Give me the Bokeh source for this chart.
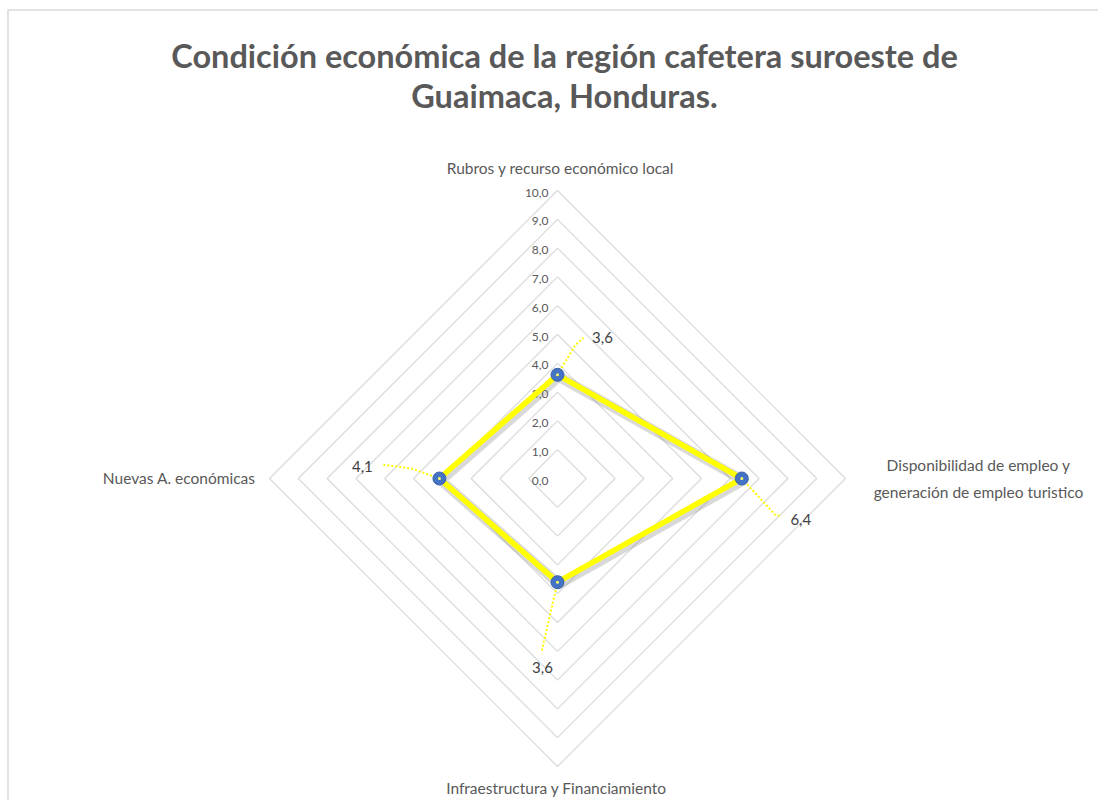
import math
from bokeh.plotting import figure
from bokeh.models import Range1d, Label
from bokeh.core.properties import value
from bokeh.embed import file_html
from bokeh.resources import INLINE

# ---- data ----
categories = ["Rubros y recurso económico local",
              "Disponibilidad de empleo y\ngeneración de empleo turistico",
              "Infraestructura y Financiamiento",
              "Nuevas A. económicas"]
values = [3.6, 6.4, 3.6, 4.1]
value_labels = ["3,6", "6,4", "3,6", "4,1"]
ring_values = [1, 2, 3, 4, 5, 6, 7, 8, 9, 10]
tick_values = [0, 1, 2, 3, 4, 5, 6, 7, 8, 9, 10]
tick_labels = ["0,0", "1,0", "2,0", "3,0", "4,0", "5,0", "6,0", "7,0", "8,0", "9,0", "10,0"]
title_lines = ["Condición económica de la región cafetera suroeste de",
               "Guaimaca, Honduras."]

# ---- layout ----
W, H = 1098, 800
CX, CY = 557, 478       # canvas pixel of the center
S = 28.8                # pixels per unit
FONT = "Lato"

def px(dx, dy):
    """pixel offset (screen, y down) -> data units"""
    return dx / S, -dy / S

def at(x, y):
    """absolute canvas pixel -> data units"""
    return px(x - CX, y - CY)

angles = [math.pi / 2, 0.0, -math.pi / 2, math.pi]

p = figure(width=W, height=H, output_backend="svg", toolbar_location=None,
           x_range=Range1d(-CX / S, (W - CX) / S),
           y_range=Range1d(-(H - CY) / S, CY / S),
           min_border=0)
p.axis.visible = False
p.grid.visible = False
p.outline_line_color = None
p.background_fill_color = "white"
p.border_fill_color = "white"

# chart-area border (top and left edges visible in the reference)
bx0, by0 = at(7.5, 9.5)
bx1, by1 = at(W + 20, H + 20)
p.line([bx0, bx0, bx1], [by1, by0, by0], line_color="#d9d9d9", line_width=1.5)

# grid rings
for r in ring_values:
    xs = [r * math.cos(a) for a in angles] + [r * math.cos(angles[0])]
    ys = [r * math.sin(a) for a in angles] + [r * math.sin(angles[0])]
    p.line(xs, ys, line_color="#d9d9d9", line_width=1.2)

# tick labels along the top axis
tdx, _ = px(-9, 0)
p.text(x=[tdx] * len(tick_values), y=tick_values, text=tick_labels,
       text_font=value(FONT), text_font_size="12px", text_color="#595959",
       text_align="right", text_baseline="middle", y_offset=2)

# data polygon
xs = [v * math.cos(a) for v, a in zip(values, angles)]
ys = [v * math.sin(a) for v, a in zip(values, angles)]
xs_c = xs + [xs[0]]
ys_c = ys + [ys[0]]
sdx, sdy = px(1.5, 2)
p.line([x + sdx for x in xs_c], [y + sdy for y in ys_c], line_color="#808080",
       line_width=10, line_alpha=0.3, line_join="round")
p.line(xs_c, ys_c, line_color="#FFFF00", line_width=5.5, line_join="miter")

# leader lines (pixel offsets from each point): top, right, bottom, left
leaders = [[(0, 0), (18, -30), (26, -37)],
           [(0, 0), (34, 37), (38, 37)],
           [(0, 0), (-16, 70)],
           [(0, 0), (-28, -10), (-57, -14)]]
for (x0, y0), pts in zip(zip(xs, ys), leaders):
    lx = [x0 + px(a, b)[0] for a, b in pts]
    ly = [y0 + px(a, b)[1] for a, b in pts]
    p.line(lx, ly, line_color="#FFFF00", line_width=2, line_dash="2 2")

# markers
p.scatter(xs, ys, size=13, fill_color="#4472C4", line_color="#3A62A8", line_width=1)
p.scatter(xs, ys, size=3, fill_color="#FFFF66", line_color=None)

# data labels: top, right, bottom, left
label_off = [(45, -37), (59, 41), (-15, 85), (-77, -12)]
dlx = [x + px(a, b)[0] for x, (a, b) in zip(xs, label_off)]
dly = [y + px(a, b)[1] for y, (a, b) in zip(ys, label_off)]
p.text(x=dlx, y=dly, text=value_labels, text_font=value(FONT), text_font_size="15px",
       text_color="#404040", text_align="center", text_baseline="middle")

# category labels
cat_pos = [(3, -311), (421, 0), (-1, 309), (-302, -1)]
cat_align = ["center", "center", "center", "right"]
for cat, (a, b), al in zip(categories, cat_pos, cat_align):
    cx, cy = px(a, b)
    p.text(x=[cx], y=[cy], text=[cat], text_font=value(FONT), text_font_size="15.5px",
           text_color="#595959", text_align=al, text_baseline="middle",
           text_line_height=1.55)

# title
for line, ty in zip(title_lines, [55, 95]):
    tx, tyd = at(564, ty)
    p.add_layout(Label(x=tx, y=tyd, text=line, text_font=FONT, text_font_size="32.5px",
                       text_font_style="bold", text_color="#595959",
                       text_align="center", text_baseline="middle"))

open("out.html", "w").write(file_html(p, INLINE))
